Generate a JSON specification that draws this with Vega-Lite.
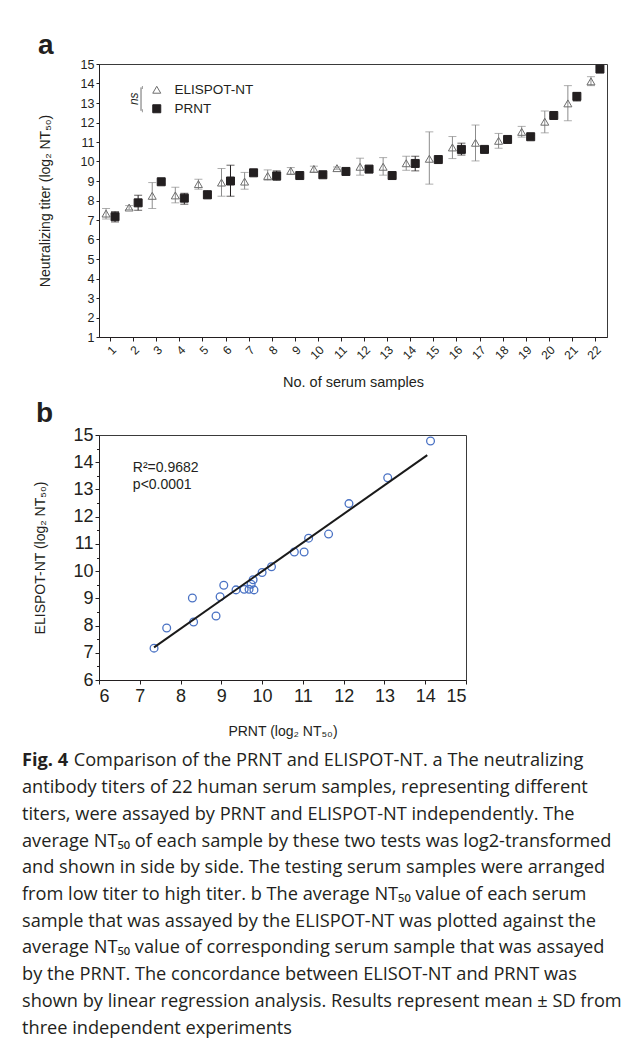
{
  "$schema": "https://vega.github.io/schema/vega-lite/v6.json",
  "background": "white",
  "padding": {"left": 22, "top": 31, "right": 0, "bottom": 0},
  "spacing": 9,
  "config": {
    "font": "Liberation Sans",
    "view": {"stroke": "#3a3a3a", "strokeWidth": 1},
    "axis": {"domainColor": "#231f20", "tickColor": "#231f20", "labelColor": "#231f20", "titleColor": "#231f20", "grid": false, "labelFont": "Liberation Sans", "titleFont": "Liberation Sans", "titleFontWeight": "normal"},
    "title": {"font": "Liberation Sans", "fontWeight": "bold", "fontSize": 28, "anchor": "start", "color": "#231f20"},
    "legend": {"padding": 0}
  },
  "vconcat": [
    {
      "width": 508,
      "height": 273,
      "title": {"text": "a", "offset": -2},
      "data": {"values": [
        {"sample": 1, "series": "ELISPOT-NT", "mean": 7.33, "lo": 7.05, "hi": 7.59},
        {"sample": 2, "series": "ELISPOT-NT", "mean": 7.64, "lo": 7.54, "hi": 7.74},
        {"sample": 3, "series": "ELISPOT-NT", "mean": 8.24, "lo": 7.59, "hi": 8.92},
        {"sample": 4, "series": "ELISPOT-NT", "mean": 8.26, "lo": 7.88, "hi": 8.68},
        {"sample": 5, "series": "ELISPOT-NT", "mean": 8.84, "lo": 8.58, "hi": 9.09},
        {"sample": 6, "series": "ELISPOT-NT", "mean": 8.92, "lo": 8.22, "hi": 9.64},
        {"sample": 7, "series": "ELISPOT-NT", "mean": 8.97, "lo": 8.58, "hi": 9.44},
        {"sample": 8, "series": "ELISPOT-NT", "mean": 9.26, "lo": 9.04, "hi": 9.57},
        {"sample": 9, "series": "ELISPOT-NT", "mean": 9.52, "lo": 9.35, "hi": 9.69},
        {"sample": 10, "series": "ELISPOT-NT", "mean": 9.62, "lo": 9.46, "hi": 9.76},
        {"sample": 11, "series": "ELISPOT-NT", "mean": 9.66, "lo": 9.6, "hi": 9.72},
        {"sample": 12, "series": "ELISPOT-NT", "mean": 9.73, "lo": 9.3, "hi": 10.17},
        {"sample": 13, "series": "ELISPOT-NT", "mean": 9.73, "lo": 9.3, "hi": 10.2},
        {"sample": 14, "series": "ELISPOT-NT", "mean": 9.91, "lo": 9.55, "hi": 10.27},
        {"sample": 15, "series": "ELISPOT-NT", "mean": 10.14, "lo": 8.84, "hi": 11.52},
        {"sample": 16, "series": "ELISPOT-NT", "mean": 10.72, "lo": 10.15, "hi": 11.28},
        {"sample": 17, "series": "ELISPOT-NT", "mean": 10.96, "lo": 10.03, "hi": 11.87},
        {"sample": 18, "series": "ELISPOT-NT", "mean": 11.06, "lo": 10.68, "hi": 11.44},
        {"sample": 19, "series": "ELISPOT-NT", "mean": 11.52, "lo": 11.25, "hi": 11.8},
        {"sample": 20, "series": "ELISPOT-NT", "mean": 12.04, "lo": 11.47, "hi": 12.59},
        {"sample": 21, "series": "ELISPOT-NT", "mean": 12.98, "lo": 12.09, "hi": 13.89},
        {"sample": 22, "series": "ELISPOT-NT", "mean": 14.11, "lo": 13.89, "hi": 14.35},
        {"sample": 1, "series": "PRNT", "mean": 7.17, "lo": 6.9, "hi": 7.43},
        {"sample": 2, "series": "PRNT", "mean": 7.88, "lo": 7.5, "hi": 8.27},
        {"sample": 3, "series": "PRNT", "mean": 8.96, "lo": 8.86, "hi": 9.06},
        {"sample": 4, "series": "PRNT", "mean": 8.12, "lo": 7.81, "hi": 8.37},
        {"sample": 5, "series": "PRNT", "mean": 8.29, "lo": 8.12, "hi": 8.5},
        {"sample": 6, "series": "PRNT", "mean": 9.0, "lo": 8.22, "hi": 9.81},
        {"sample": 7, "series": "PRNT", "mean": 9.42, "lo": 9.35, "hi": 9.5},
        {"sample": 8, "series": "PRNT", "mean": 9.26, "lo": 9.04, "hi": 9.52},
        {"sample": 9, "series": "PRNT", "mean": 9.28, "lo": 9.2, "hi": 9.36},
        {"sample": 10, "series": "PRNT", "mean": 9.32, "lo": 9.25, "hi": 9.4},
        {"sample": 11, "series": "PRNT", "mean": 9.49, "lo": 9.42, "hi": 9.56},
        {"sample": 12, "series": "PRNT", "mean": 9.61, "lo": 9.54, "hi": 9.68},
        {"sample": 13, "series": "PRNT", "mean": 9.28, "lo": 9.2, "hi": 9.36},
        {"sample": 14, "series": "PRNT", "mean": 9.9, "lo": 9.52, "hi": 10.27},
        {"sample": 15, "series": "PRNT", "mean": 10.1, "lo": 10.03, "hi": 10.17},
        {"sample": 16, "series": "PRNT", "mean": 10.62, "lo": 10.33, "hi": 10.94},
        {"sample": 17, "series": "PRNT", "mean": 10.62, "lo": 10.55, "hi": 10.69},
        {"sample": 18, "series": "PRNT", "mean": 11.13, "lo": 11.06, "hi": 11.2},
        {"sample": 19, "series": "PRNT", "mean": 11.27, "lo": 11.2, "hi": 11.34},
        {"sample": 20, "series": "PRNT", "mean": 12.36, "lo": 12.29, "hi": 12.43},
        {"sample": 21, "series": "PRNT", "mean": 13.34, "lo": 13.1, "hi": 13.54},
        {"sample": 22, "series": "PRNT", "mean": 14.74, "lo": 14.67, "hi": 14.81}
      ]},
      "encoding": {
        "x": {"field": "sample", "type": "ordinal", "scale": {"type": "band", "paddingInner": 0, "paddingOuter": 0},
              "axis": {"labelAngle": -45, "labelFontSize": 12, "tickSize": 4, "labelPadding": 3, "title": "No. of serum samples", "titleFontSize": 14.5, "titlePadding": 14}},
        "y": {"field": "mean", "type": "quantitative", "scale": {"domain": [1, 15], "nice": false, "zero": false},
              "axis": {"values": [1,2,3,4,5,6,7,8,9,10,11,12,13,14,15], "labelFontSize": 12.5, "tickSize": 3, "labelPadding": 2, "title": "Neutralizing titer (log₂ NT₅₀)", "titleFontSize": 14, "titlePadding": 28}}
      },
      "layer": [
        {
          "mark": {"type": "rule", "strokeWidth": 1},
          "encoding": {
            "xOffset": {"field": "series", "type": "nominal", "scale": {"paddingInner": 0, "paddingOuter": 0.284}},
            "y": {"field": "lo", "type": "quantitative"},
            "y2": {"field": "hi"},
            "color": {"field": "series", "type": "nominal", "scale": {"domain": ["PRNT", "ELISPOT-NT"], "range": ["#231f20", "#8c8c8c"]}, "legend": null}
          }
        },
        {
          "mark": {"type": "tick", "size": 8, "thickness": 1},
          "encoding": {
            "xOffset": {"field": "series", "type": "nominal", "scale": {"paddingInner": 0, "paddingOuter": 0.284}},
            "y": {"field": "lo", "type": "quantitative"},
            "color": {"field": "series", "type": "nominal", "legend": null}
          }
        },
        {
          "mark": {"type": "tick", "size": 8, "thickness": 1},
          "encoding": {
            "xOffset": {"field": "series", "type": "nominal", "scale": {"paddingInner": 0, "paddingOuter": 0.284}},
            "y": {"field": "hi", "type": "quantitative"},
            "color": {"field": "series", "type": "nominal", "legend": null}
          }
        },
        {
          "mark": {"type": "point", "size": 64, "strokeWidth": 1, "opacity": 1},
          "encoding": {
            "xOffset": {"field": "series", "type": "nominal", "scale": {"paddingInner": 0, "paddingOuter": 0.284}},
            "shape": {"field": "series", "type": "nominal", "scale": {"domain": ["ELISPOT-NT", "PRNT"], "range": ["triangle-up", "square"]},
                      "legend": {"orient": "none", "legendX": 51, "legendY": 19, "title": null, "labelFontSize": 13.5, "labelColor": "#231f20", "symbolSize": 64, "rowPadding": 4, "labelOffset": 11, "symbolStrokeWidth": 1}},
            "fill": {"field": "series", "type": "nominal", "scale": {"domain": ["ELISPOT-NT", "PRNT"], "range": ["transparent", "#231f20"]},
                     "legend": {"orient": "none", "legendX": 51, "legendY": 19, "title": null, "labelFontSize": 13.5, "labelColor": "#231f20", "symbolSize": 64, "rowPadding": 4, "labelOffset": 11, "symbolStrokeWidth": 1}},
            "stroke": {"field": "series", "type": "nominal", "scale": {"domain": ["ELISPOT-NT", "PRNT"], "range": ["#6d6d6d", "#231f20"]},
                       "legend": {"orient": "none", "legendX": 51, "legendY": 19, "title": null, "labelFontSize": 13.5, "labelColor": "#231f20", "symbolSize": 64, "rowPadding": 4, "labelOffset": 11, "symbolStrokeWidth": 1}}
          }
        },
        {
          "transform": [{"filter": "datum.sample == 1 && datum.series == 'PRNT'"}],
          "mark": {"type": "text", "text": "ns", "angle": 270, "fontStyle": "italic", "fontSize": 12, "color": "#231f20"},
          "encoding": {
            "x": {"datum": 2, "type": "ordinal"},
            "y": {"datum": 13.22, "type": "quantitative"}
          }
        },
        {
          "transform": [{"filter": "datum.sample == 1 && datum.series == 'PRNT'"}],
          "mark": {"type": "rule", "strokeWidth": 1, "color": "#6d6d6d"},
          "encoding": {
            "x": {"datum": 2, "type": "ordinal", "bandPosition": 0.82},
            "y": {"datum": 13.8, "type": "quantitative"},
            "y2": {"datum": 12.6}
          }
        },
        {
          "transform": [{"filter": "datum.sample == 1 && datum.series == 'PRNT'"}],
          "mark": {"type": "tick", "size": 3, "thickness": 1, "color": "#6d6d6d"},
          "encoding": {
            "x": {"datum": 2, "type": "ordinal", "bandPosition": 0.88},
            "y": {"datum": 13.8, "type": "quantitative"}
          }
        },
        {
          "transform": [{"filter": "datum.sample == 1 && datum.series == 'PRNT'"}],
          "mark": {"type": "tick", "size": 3, "thickness": 1, "color": "#6d6d6d"},
          "encoding": {
            "x": {"datum": 2, "type": "ordinal", "bandPosition": 0.88},
            "y": {"datum": 12.6, "type": "quantitative"}
          }
        }
      ]
    },
    {
      "width": 367,
      "height": 245,
      "title": {"text": "b", "offset": -2, "dx": 2},
      "resolve": {"axis": {"y": "independent"}},
      "layer": [
        {
          "data": {"values": [
            {"prnt": 7.35, "elispot": 7.17},
            {"prnt": 7.66, "elispot": 7.91},
            {"prnt": 8.29, "elispot": 9.01},
            {"prnt": 8.32, "elispot": 8.13},
            {"prnt": 8.87, "elispot": 8.35},
            {"prnt": 8.97, "elispot": 9.06},
            {"prnt": 9.06, "elispot": 9.48},
            {"prnt": 9.36, "elispot": 9.31},
            {"prnt": 9.56, "elispot": 9.33},
            {"prnt": 9.68, "elispot": 9.33},
            {"prnt": 9.73, "elispot": 9.52},
            {"prnt": 9.78, "elispot": 9.68},
            {"prnt": 9.8, "elispot": 9.31},
            {"prnt": 10.0, "elispot": 9.95},
            {"prnt": 10.23, "elispot": 10.16},
            {"prnt": 10.79, "elispot": 10.7},
            {"prnt": 11.03, "elispot": 10.7},
            {"prnt": 11.14, "elispot": 11.21},
            {"prnt": 11.63, "elispot": 11.36},
            {"prnt": 12.13, "elispot": 12.48},
            {"prnt": 13.08, "elispot": 13.43},
            {"prnt": 14.13, "elispot": 14.78}
          ]},
          "mark": {"type": "point", "shape": "circle", "filled": false, "color": "#4a72c4", "size": 60, "strokeWidth": 1.3, "opacity": 1},
          "encoding": {
            "x": {"field": "prnt", "type": "quantitative", "scale": {"domain": [6, 15], "nice": false, "zero": false},
                  "axis": {"values": [6,7,8,9,10,11,12,13,14,15], "labelFontSize": 18, "tickSize": 4, "labelPadding": 3, "title": "PRNT (log₂ NT₅₀)", "titleFontSize": 14, "titlePadding": 19}},
            "y": {"field": "elispot", "type": "quantitative", "scale": {"domain": [6, 15], "nice": false, "zero": false},
                  "axis": {"orient": "left", "values": [6,7,8,9,10,11,12,13,14,15], "labelFontSize": 18, "tickSize": 4, "labelPadding": 2, "title": "ELISPOT-NT (log₂ NT₅₀)", "titleFontSize": 14, "titlePadding": 25}}
          }
        },
        {
          "data": {"values": [
            {"prnt": 7.35, "elispot": 7.2},
            {"prnt": 14.05, "elispot": 14.26}
          ]},
          "mark": {"type": "line", "color": "#1a1a1a", "strokeWidth": 2},
          "encoding": {
            "x": {"field": "prnt", "type": "quantitative"},
            "y": {"field": "elispot", "type": "quantitative",
                  "axis": {"orient": "left", "values": [6.5,7.5,8.5,9.5,10.5,11.5,12.5,13.5,14.5], "labels": false, "domain": false, "title": null, "tickSize": 2.5}}
          }
        },
        {
          "data": {"values": [{}]},
          "mark": {"type": "text", "text": "R²=0.9682", "align": "left", "baseline": "middle", "fontSize": 14, "color": "#231f20"},
          "encoding": {
            "x": {"datum": 6.83, "type": "quantitative"},
            "y": {"datum": 13.8, "type": "quantitative", "axis": null}
          }
        },
        {
          "data": {"values": [{}]},
          "mark": {"type": "text", "text": "p<0.0001", "align": "left", "baseline": "middle", "fontSize": 14, "color": "#231f20"},
          "encoding": {
            "x": {"datum": 6.83, "type": "quantitative"},
            "y": {"datum": 13.15, "type": "quantitative", "axis": null}
          }
        }
      ]
    },
    {
      "width": 500,
      "height": 294,
      "view": {"stroke": null},
      "encoding": {
        "y": {"field": "line", "type": "ordinal", "scale": {"type": "band", "paddingInner": 0, "paddingOuter": 0, "domain": [1,2,3,4,5,6,7,8,9,10,11]}, "axis": null},
        "text": {"field": "text"}
      },
      "layer": [
        {
          "data": {"values": [
            {"line": 1, "text": "Fig. 4"}
          ]},
          "mark": {"type": "text", "align": "left", "baseline": "middle", "font": "Open Sans", "fontWeight": "bold", "fontSize": 18.2, "color": "#231f20"},
          "encoding": {
            "x": {"datum": -0.154, "type": "quantitative", "scale": {"domain": [0, 1]}, "axis": null}
          }
        },
        {
          "data": {"values": [
            {"line": 1, "text": "Comparison of the PRNT and ELISPOT-NT. a The neutralizing"}
          ]},
          "mark": {"type": "text", "align": "left", "baseline": "middle", "font": "Open Sans", "fontSize": 18.2, "color": "#231f20"},
          "encoding": {
            "x": {"datum": -0.0506, "type": "quantitative"}
          }
        },
        {
          "data": {"values": [
            {"line": 2, "text": "antibody titers of 22 human serum samples, representing different"},
            {"line": 3, "text": "titers, were assayed by PRNT and ELISPOT-NT independently. The"},
            {"line": 4, "text": "average NT₅₀ of each sample by these two tests was log2-transformed"},
            {"line": 5, "text": "and shown in side by side. The testing serum samples were arranged"},
            {"line": 6, "text": "from low titer to high titer. b The average NT₅₀ value of each serum"},
            {"line": 7, "text": "sample that was assayed by the ELISPOT-NT was plotted against the"},
            {"line": 8, "text": "average NT₅₀ value of corresponding serum sample that was assayed"},
            {"line": 9, "text": "by the PRNT. The concordance between ELISOT-NT and PRNT was"},
            {"line": 10, "text": "shown by linear regression analysis. Results represent mean ± SD from"},
            {"line": 11, "text": "three independent experiments"}
          ]},
          "mark": {"type": "text", "align": "left", "baseline": "middle", "font": "Open Sans", "fontSize": 18.2, "color": "#231f20"},
          "encoding": {
            "x": {"datum": -0.154, "type": "quantitative"}
          }
        }
      ]
    }
  ]
}
